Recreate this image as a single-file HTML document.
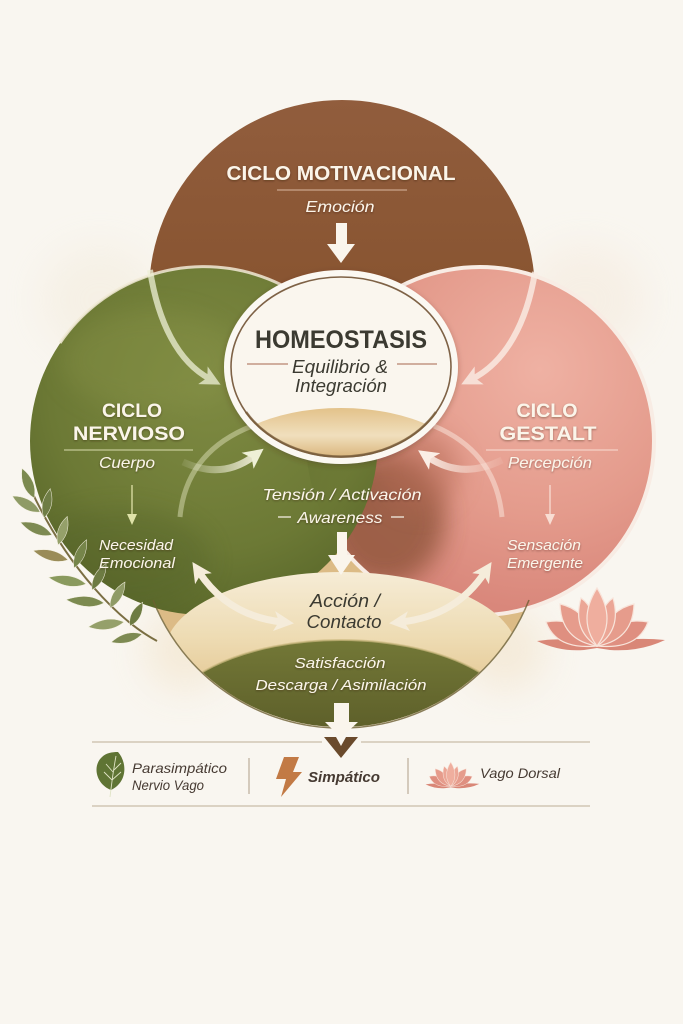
<!DOCTYPE html>
<html><head><meta charset="utf-8">
<style>
html,body{margin:0;padding:0;background:#f9f6f0;}
svg{display:block;}
text{font-family:"Liberation Sans",sans-serif;}
</style></head>
<body>
<svg width="683" height="1024" viewBox="0 0 683 1024" xmlns="http://www.w3.org/2000/svg">
<defs>
 <filter id="blur20" x="-50%" y="-50%" width="200%" height="200%"><feGaussianBlur stdDeviation="20"/></filter>
 <filter id="blur12" x="-50%" y="-50%" width="200%" height="200%"><feGaussianBlur stdDeviation="12"/></filter>
 <filter id="sh" x="-10%" y="-30%" width="120%" height="160%"><feDropShadow dx="0" dy="1" stdDeviation="1" flood-color="#2a1a10" flood-opacity="0.4"/></filter>
 <filter id="shHome" x="-20%" y="-20%" width="140%" height="140%"><feDropShadow dx="0" dy="2" stdDeviation="3" flood-color="#4a3020" flood-opacity="0.3"/></filter>
 <radialGradient id="gGreen" cx="210" cy="390" r="230" gradientUnits="userSpaceOnUse">
  <stop offset="0" stop-color="#7e8a42"/><stop offset="0.7" stop-color="#6c7935"/><stop offset="1" stop-color="#5b692b"/>
 </radialGradient>
 <radialGradient id="gPink" cx="540" cy="370" r="240" gradientUnits="userSpaceOnUse">
  <stop offset="0" stop-color="#efb1a3"/><stop offset="0.6" stop-color="#e49b8c"/><stop offset="1" stop-color="#d9877b"/>
 </radialGradient>
 <linearGradient id="gBrown" x1="0" y1="100" x2="0" y2="320" gradientUnits="userSpaceOnUse">
  <stop offset="0" stop-color="#915d3d"/><stop offset="1" stop-color="#87532f"/>
 </linearGradient>
 <linearGradient id="gGreenFade" x1="300" y1="0" x2="352" y2="0" gradientUnits="userSpaceOnUse">
  <stop offset="0" stop-color="#6a7734" stop-opacity="1"/><stop offset="1" stop-color="#6a7734" stop-opacity="0"/>
 </linearGradient>
 <linearGradient id="gLens" x1="0" y1="572" x2="0" y2="700" gradientUnits="userSpaceOnUse">
  <stop offset="0" stop-color="#f6ecd6"/><stop offset="0.5" stop-color="#eedcb4"/><stop offset="1" stop-color="#e2c48e"/>
 </linearGradient>
 <linearGradient id="gDome" x1="0" y1="640" x2="0" y2="727" gradientUnits="userSpaceOnUse">
  <stop offset="0" stop-color="#737837"/><stop offset="1" stop-color="#5e602a"/>
 </linearGradient>
 <linearGradient id="gTanHome" x1="0" y1="408" x2="0" y2="458" gradientUnits="userSpaceOnUse">
  <stop offset="0" stop-color="#e3c28a"/><stop offset="0.55" stop-color="#f0dfbd"/><stop offset="1" stop-color="#d9b47a"/>
 </linearGradient>
 <linearGradient id="gSwL" x1="183" y1="0" x2="258" y2="0" gradientUnits="userSpaceOnUse">
  <stop offset="0" stop-color="#eef0d8" stop-opacity="0.1"/><stop offset="1" stop-color="#f2efdc" stop-opacity="0.95"/>
 </linearGradient>
 <linearGradient id="gSwR" x1="502" y1="0" x2="425" y2="0" gradientUnits="userSpaceOnUse">
  <stop offset="0" stop-color="#fbe9e0" stop-opacity="0.1"/><stop offset="1" stop-color="#fbeee6" stop-opacity="0.95"/>
 </linearGradient>
 <clipPath id="cGreen"><circle cx="204" cy="441" r="174"/></clipPath>
 <clipPath id="cPink"><circle cx="480" cy="441" r="174"/></clipPath>
 <clipPath id="cBowl"><circle cx="341" cy="525" r="202"/></clipPath>
 <clipPath id="cHome"><ellipse cx="341" cy="367" rx="110" ry="90"/></clipPath>
 <marker id="ah" viewBox="0 0 10 10" refX="4" refY="5" markerWidth="20" markerHeight="20" markerUnits="userSpaceOnUse" orient="auto-start-reverse">
  <path d="M0,0 L10,5 L0,10 L2.5,5 Z" fill="#f5ecda"/>
 </marker>
 <marker id="ahG" viewBox="0 0 10 10" refX="4" refY="5" markerWidth="20" markerHeight="20" markerUnits="userSpaceOnUse" orient="auto">
  <path d="M0,0 L10,5 L0,10 L2.5,5 Z" fill="#eef0d6"/>
 </marker>
 <marker id="ahP" viewBox="0 0 10 10" refX="4" refY="5" markerWidth="20" markerHeight="20" markerUnits="userSpaceOnUse" orient="auto">
  <path d="M0,0 L10,5 L0,10 L2.5,5 Z" fill="#fbeee6"/>
 </marker>
 <g id="lotus">
  <path d="M537,641 Q570,636 597,646 Q625,636 665,640 Q640,652 610,650 L597,648 L584,650 Q560,652 537,641 Z" fill="#d98777"/>
  <g stroke="#f8e4da" stroke-width="1.2">
   <path d="M597,646 Q556,650 546,622 Q578,616 597,646 Z" fill="#df8f80"/>
   <path d="M597,646 Q638,650 648,622 Q616,616 597,646 Z" fill="#df8f80"/>
   <path d="M597,646 Q561,640 560,604 Q588,610 597,646 Z" fill="#e69c8c"/>
   <path d="M597,646 Q633,640 634,604 Q606,610 597,646 Z" fill="#e69c8c"/>
   <path d="M597,646 Q572,630 581,598 Q598,610 597,646 Z" fill="#eba696"/>
   <path d="M597,646 Q622,630 613,598 Q596,610 597,646 Z" fill="#eba696"/>
   <path d="M597,646 Q577,620 597,588 Q617,620 597,646 Z" fill="#efae9e"/>
  </g>
 </g>
</defs>

<rect width="683" height="1024" fill="#f9f6f0"/>

<!-- soft watercolor halos -->
<ellipse cx="585" cy="300" rx="60" ry="55" fill="#f2e2d0" opacity="0.35" filter="url(#blur20)"/>
<ellipse cx="100" cy="300" rx="60" ry="55" fill="#f0e6d2" opacity="0.35" filter="url(#blur20)"/>
<ellipse cx="185" cy="650" rx="40" ry="40" fill="#efdcba" opacity="0.45" filter="url(#blur20)"/>
<ellipse cx="505" cy="650" rx="40" ry="40" fill="#efdcbc" opacity="0.45" filter="url(#blur20)"/>

<!-- bowl base (tan) -->
<g clip-path="url(#cBowl)">
 <rect x="130" y="540" width="420" height="200" fill="#dcbb86"/>
</g>

<!-- brown top circle -->
<circle cx="342" cy="293" r="193" fill="url(#gBrown)"/>

<!-- pink circle -->
<circle cx="480" cy="441" r="174" fill="url(#gPink)"/>
<g clip-path="url(#cPink)">
 <ellipse cx="385" cy="520" rx="60" ry="65" fill="#8e553b" opacity="0.8" filter="url(#blur12)"/>
 <ellipse cx="420" cy="470" rx="40" ry="40" fill="#b46b55" opacity="0.5" filter="url(#blur12)"/>
</g>
<circle cx="480" cy="441" r="174" fill="none" stroke="#f8ece4" stroke-width="4"/>

<!-- green circle -->
<circle cx="204" cy="441" r="174" fill="url(#gGreen)"/>
<g clip-path="url(#cGreen)">
 <ellipse cx="150" cy="360" rx="90" ry="50" fill="#8a9448" opacity="0.35" filter="url(#blur12)"/>
 <ellipse cx="120" cy="560" rx="90" ry="50" fill="#55632a" opacity="0.4" filter="url(#blur12)"/>
</g>
<path d="M60,343 A174,174 0 0 1 378,441" fill="none" stroke="#f1ead6" stroke-width="3" opacity="0.85"/>
<!-- blend overlap: green fading into pink -->
<g clip-path="url(#cPink)">
 <g clip-path="url(#cGreen)">
  <rect x="290" y="380" width="100" height="260" fill="url(#gGreenFade)"/>
 </g>
</g>

<!-- bowl lens & dome -->
<g clip-path="url(#cBowl)">
 <ellipse cx="341" cy="652" rx="176" ry="80" fill="url(#gLens)"/>
 <ellipse cx="341" cy="730" rx="181" ry="90" fill="url(#gDome)"/>
 <ellipse cx="341" cy="730" rx="181" ry="90" fill="none" stroke="#cdbb82" stroke-width="2" opacity="0.7"/>
 <path d="M160,640 A195,195 0 0 0 522,640" fill="none" stroke="#807a3e" stroke-width="5" opacity="0.4"/>
</g>
<path d="M153,600 A202,202 0 0 0 529,600" fill="none" stroke="#6d5f32" stroke-width="1.5" opacity="0.8"/>

<!-- top curved arrows -->
<path d="M150,270 C158,322 178,362 210,379" fill="none" stroke="#eef0d6" stroke-width="6" opacity="0.75" marker-end="url(#ahG)"/>
<path d="M535,272 C527,322 506,362 472,379" fill="none" stroke="#fbeee6" stroke-width="6" opacity="0.8" marker-end="url(#ahP)"/>

<!-- thin arcs -->
<path d="M180,517 Q186,452 252,426" fill="none" stroke="#e6e8c4" stroke-width="5" opacity="0.45"/>
<path d="M502,517 Q496,452 434,426" fill="none" stroke="#fbe9e0" stroke-width="5" opacity="0.5"/>

<!-- Homeostasis ellipse -->
<g filter="url(#shHome)">
 <ellipse cx="341" cy="367" rx="117" ry="97" fill="#fbf8f2"/>
</g>
<g clip-path="url(#cHome)">
 <rect x="225" y="270" width="235" height="200" fill="#faf6ee"/>
 <ellipse cx="341" cy="472" rx="128" ry="64" fill="url(#gTanHome)"/>
</g>
<ellipse cx="341" cy="367" rx="110" ry="90" fill="none" stroke="#7e6246" stroke-width="1.6"/>
<path d="M246,412 A110,90 0 0 0 436,412" fill="none" stroke="#7a5f3c" stroke-width="2.5" opacity="0.8"/>

<!-- mid swoosh arrows -->
<path d="M183,462 Q222,480 254,456" fill="none" stroke="url(#gSwL)" stroke-width="7" marker-end="url(#ahG)"/>
<path d="M502,460 Q462,480 428,457" fill="none" stroke="url(#gSwR)" stroke-width="7" marker-end="url(#ahP)"/>

<!-- double arrows -->
<path d="M199,572 Q228,616 282,622" fill="none" stroke="#f5ecda" stroke-width="7" marker-start="url(#ah)" marker-end="url(#ah)"/>
<path d="M485,572 Q456,616 401,622" fill="none" stroke="#f5ecda" stroke-width="7" marker-start="url(#ah)" marker-end="url(#ah)"/>

<!-- straight arrows -->
<g fill="#faf5ec">
 <rect x="336" y="223" width="11" height="24"/>
 <polygon points="327,244 355,244 341,263"/>
 <rect x="337" y="532" width="10" height="25"/>
 <polygon points="328,555 355,555 341,575"/>
 <rect x="334" y="703" width="15" height="21"/>
 <polygon points="325,722 358,722 341,738"/>
</g>

<!-- olive branch -->
<path d="M157,641 C118,620 68,568 32,492" fill="none" stroke="#7a6e42" stroke-width="2"/>
<g stroke="#f4f0e0" stroke-width="0.5">
 <path d="M0,0 Q14,-10 32,0 Q14,10 0,0Z" fill="#7c8a50" transform="translate(34,498) rotate(-112)"/>
 <path d="M0,0 Q14,-10 32,0 Q14,10 0,0Z" fill="#8f9b66" transform="translate(40,512) rotate(-150)"/>
 <path d="M0,0 Q14,-9 30,0 Q14,9 0,0Z" fill="#6f7d45" transform="translate(44,518) rotate(-78)"/>
 <path d="M0,0 Q15,-10 34,0 Q15,10 0,0Z" fill="#7d8a52" transform="translate(52,535) rotate(-158)"/>
 <path d="M0,0 Q14,-9 30,0 Q14,9 0,0Z" fill="#95a06a" transform="translate(58,545) rotate(-72)"/>
 <path d="M0,0 Q16,-10 36,0 Q16,10 0,0Z" fill="#9a8c58" transform="translate(68,560) rotate(-165)"/>
 <path d="M0,0 Q14,-9 31,0 Q14,9 0,0Z" fill="#76854a" transform="translate(74,568) rotate(-66)"/>
 <path d="M0,0 Q16,-10 38,0 Q16,10 0,0Z" fill="#8a9a5e" transform="translate(86,584) rotate(-170)"/>
 <path d="M0,0 Q14,-9 30,0 Q14,9 0,0Z" fill="#6d7b42" transform="translate(92,590) rotate(-62)"/>
 <path d="M0,0 Q16,-10 38,0 Q16,10 0,0Z" fill="#7c8a50" transform="translate(104,603) rotate(-175)"/>
 <path d="M0,0 Q14,-9 30,0 Q14,9 0,0Z" fill="#8f9b66" transform="translate(110,608) rotate(-60)"/>
 <path d="M0,0 Q16,-10 36,0 Q16,10 0,0Z" fill="#95a06a" transform="translate(124,622) rotate(172)"/>
 <path d="M0,0 Q12,-9 27,0 Q12,9 0,0Z" fill="#6d7b42" transform="translate(130,626) rotate(-62)"/>
 <path d="M0,0 Q14,-9 32,0 Q14,9 0,0Z" fill="#7d8a52" transform="translate(142,634) rotate(165)"/>
</g>

<!-- lotus -->
<use href="#lotus"/>

<!-- Texts -->
<g fill="#fbf5ea" filter="url(#sh)">
 <text x="341" y="180" text-anchor="middle" font-size="20" font-weight="bold" textLength="229" lengthAdjust="spacingAndGlyphs">CICLO MOTIVACIONAL</text>
 <text x="340" y="212" text-anchor="middle" font-size="16" font-style="italic" textLength="69" lengthAdjust="spacingAndGlyphs">Emoción</text>
 <text x="132" y="417" text-anchor="middle" font-size="19" font-weight="bold" textLength="60" lengthAdjust="spacingAndGlyphs">CICLO</text>
 <text x="129" y="440" text-anchor="middle" font-size="19" font-weight="bold" textLength="112" lengthAdjust="spacingAndGlyphs">NERVIOSO</text>
 <text x="127" y="468" text-anchor="middle" font-size="16" font-style="italic" textLength="56" lengthAdjust="spacingAndGlyphs">Cuerpo</text>
 <text x="136" y="550" text-anchor="middle" font-size="15" font-style="italic" textLength="74" lengthAdjust="spacingAndGlyphs">Necesidad</text>
 <text x="137" y="568" text-anchor="middle" font-size="15" font-style="italic" textLength="76" lengthAdjust="spacingAndGlyphs">Emocional</text>
 <text x="547" y="417" text-anchor="middle" font-size="19" font-weight="bold" textLength="61" lengthAdjust="spacingAndGlyphs">CICLO</text>
 <text x="548" y="440" text-anchor="middle" font-size="19" font-weight="bold" textLength="97" lengthAdjust="spacingAndGlyphs">GESTALT</text>
 <text x="550" y="468" text-anchor="middle" font-size="16" font-style="italic" textLength="84" lengthAdjust="spacingAndGlyphs">Percepción</text>
 <text x="544" y="550" text-anchor="middle" font-size="15" font-style="italic" textLength="74" lengthAdjust="spacingAndGlyphs">Sensación</text>
 <text x="545" y="568" text-anchor="middle" font-size="15" font-style="italic" textLength="76" lengthAdjust="spacingAndGlyphs">Emergente</text>
 <text x="342" y="500" text-anchor="middle" font-size="16" font-style="italic" textLength="159" lengthAdjust="spacingAndGlyphs">Tensión / Activación</text>
 <text x="340" y="523" text-anchor="middle" font-size="16" font-style="italic" textLength="85" lengthAdjust="spacingAndGlyphs">Awareness</text>
 <text x="340" y="668" text-anchor="middle" font-size="15" font-style="italic" textLength="91" lengthAdjust="spacingAndGlyphs">Satisfacción</text>
 <text x="341" y="690" text-anchor="middle" font-size="15" font-style="italic" textLength="171" lengthAdjust="spacingAndGlyphs">Descarga / Asimilación</text>
</g>

<!-- lines & thin arrows -->
<line x1="277" y1="190" x2="407" y2="190" stroke="#d9b8a0" stroke-width="1"/>
<line x1="64" y1="450" x2="193" y2="450" stroke="#d9dcae" stroke-width="1"/>
<line x1="486" y1="450" x2="618" y2="450" stroke="#f8ddd3" stroke-width="1"/>
<line x1="132" y1="485" x2="132" y2="516" stroke="#dfe2a8" stroke-width="1.3"/>
<polygon points="127,514 137,514 132,525" fill="#dfe2a8"/>
<line x1="550" y1="485" x2="550" y2="516" stroke="#f8ddd3" stroke-width="1.3"/>
<polygon points="545,514 555,514 550,525" fill="#f8ddd3"/>
<line x1="278" y1="517" x2="291" y2="517" stroke="#f2ece0" stroke-width="1.3"/>
<line x1="391" y1="517" x2="404" y2="517" stroke="#f2ece0" stroke-width="1.3"/>
<line x1="247" y1="364" x2="288" y2="364" stroke="#b8846f" stroke-width="1.2"/>
<line x1="397" y1="364" x2="437" y2="364" stroke="#b8846f" stroke-width="1.2"/>

<!-- dark texts -->
<g fill="#3b3a31">
 <text x="341" y="348" text-anchor="middle" font-size="25" font-weight="bold" textLength="172" lengthAdjust="spacingAndGlyphs">HOMEOSTASIS</text>
 <text x="340" y="373" text-anchor="middle" font-size="18" font-style="italic" textLength="96" lengthAdjust="spacingAndGlyphs">Equilibrio &amp;</text>
 <text x="341" y="392" text-anchor="middle" font-size="18" font-style="italic" textLength="92" lengthAdjust="spacingAndGlyphs">Integración</text>
 <text x="345" y="607" text-anchor="middle" font-size="18" font-style="italic" textLength="70" lengthAdjust="spacingAndGlyphs">Acción /</text>
 <text x="344" y="628" text-anchor="middle" font-size="18" font-style="italic" textLength="75" lengthAdjust="spacingAndGlyphs">Contacto</text>
</g>

<!-- legend -->
<line x1="92" y1="742" x2="322" y2="742" stroke="#c9bca8" stroke-width="1.3"/>
<line x1="361" y1="742" x2="590" y2="742" stroke="#c9bca8" stroke-width="1.3"/>
<line x1="92" y1="806" x2="590" y2="806" stroke="#c9bca8" stroke-width="1.3"/>
<polygon points="324,737 336,737 341,746 346,737 358,737 341,758" fill="#6a4a2c"/>
<line x1="249" y1="758" x2="249" y2="794" stroke="#bfb3a0" stroke-width="1.3"/>
<line x1="408" y1="758" x2="408" y2="794" stroke="#bfb3a0" stroke-width="1.3"/>

<!-- leaf icon -->
<path d="M111,790 C96,784 92,766 102,757 C106,753 112,752 118,752 C127,762 128,782 111,790 Z" fill="#5f7434"/>
<g stroke="#dfe3c4" stroke-width="0.9" fill="none">
 <path d="M110,797 L111,789 Q113,772 116,756"/>
 <path d="M112,780 L104,772 M113,772 L106,764 M112,780 L121,772 M114,770 L121,763"/>
</g>

<!-- lightning -->
<path d="M284,757 L299,757 L293,772 L302,772 L281,797 L286,779 L276,779 Z" fill="#c27a45"/>

<!-- legend lotus -->
<g transform="translate(452,786) scale(0.42) translate(-600,-645)"><use href="#lotus"/></g>

<g fill="#463a32">
 <text x="132" y="773" font-size="14" font-style="italic" textLength="95" lengthAdjust="spacingAndGlyphs">Parasimpático</text>
 <text x="132" y="790" font-size="14" font-style="italic" textLength="72" lengthAdjust="spacingAndGlyphs">Nervio Vago</text>
 <text x="308" y="782" font-size="15" font-weight="bold" font-style="italic" textLength="72" lengthAdjust="spacingAndGlyphs">Simpático</text>
 <text x="480" y="778" font-size="14" font-style="italic" textLength="80" lengthAdjust="spacingAndGlyphs">Vago Dorsal</text>
</g>
</svg>
</body></html>
